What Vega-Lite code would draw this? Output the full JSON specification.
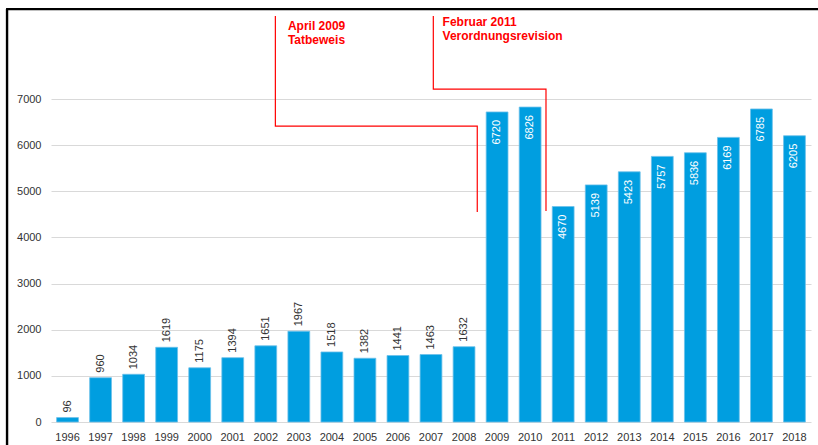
{
  "$schema": "https://vega.github.io/schema/vega-lite/v6.json",
  "width": 760,
  "height": 406,
  "autosize": {"type": "none"},
  "padding": {"left": 51, "top": 16, "right": 7, "bottom": 23},
  "background": "white",
  "config": {
    "view": {"stroke": null},
    "font": "Liberation Sans",
    "axis": {"labelFont": "Liberation Sans", "labelFontSize": 11, "labelColor": "#333333"}
  },
  "datasets": {
    "counts": [
      {"year": "1996", "count": 96}, {"year": "1997", "count": 960}, {"year": "1998", "count": 1034},
      {"year": "1999", "count": 1619}, {"year": "2000", "count": 1175}, {"year": "2001", "count": 1394},
      {"year": "2002", "count": 1651}, {"year": "2003", "count": 1967}, {"year": "2004", "count": 1518},
      {"year": "2005", "count": 1382}, {"year": "2006", "count": 1441}, {"year": "2007", "count": 1463},
      {"year": "2008", "count": 1632}, {"year": "2009", "count": 6720}, {"year": "2010", "count": 6826},
      {"year": "2011", "count": 4670}, {"year": "2012", "count": 5139}, {"year": "2013", "count": 5423},
      {"year": "2014", "count": 5757}, {"year": "2015", "count": 5836}, {"year": "2016", "count": 6169},
      {"year": "2017", "count": 6785}, {"year": "2018", "count": 6205}
    ],
    "annotLines": [
      {"id": "a", "order": 1, "x": 6.79, "y": 8800},
      {"id": "a", "order": 2, "x": 6.79, "y": 6415},
      {"id": "a", "order": 3, "x": 12.9, "y": 6415},
      {"id": "a", "order": 4, "x": 12.9, "y": 4551},
      {"id": "b", "order": 1, "x": 11.57, "y": 8800},
      {"id": "b", "order": 2, "x": 11.57, "y": 7217},
      {"id": "b", "order": 3, "x": 14.98, "y": 7217},
      {"id": "b", "order": 4, "x": 14.98, "y": 4573}
    ],
    "annotText": [
      {"x": 7.17, "y": 8496, "label": "April 2009"},
      {"x": 7.17, "y": 8193, "label": "Tatbeweis"},
      {"x": 11.85, "y": 8583, "label": "Februar 2011"},
      {"x": 11.85, "y": 8279, "label": "Verordnungsrevision"}
    ]
  },
  "resolve": {"scale": {"x": "independent"}, "axis": {"x": "independent"}},
  "layer": [
    {
      "data": {"name": "counts"},
      "encoding": {
        "x": {
          "field": "year", "type": "nominal", "sort": null,
          "scale": {"paddingInner": 0.34, "paddingOuter": 0.17},
          "axis": {"title": null, "labelAngle": 0, "domain": false, "ticks": false, "labelPadding": 9}
        },
        "y": {
          "field": "count", "type": "quantitative",
          "scale": {"domain": [0, 8800], "nice": false},
          "axis": {
            "title": null, "values": [0, 1000, 2000, 3000, 4000, 5000, 6000, 7000], "format": "d",
            "domain": false, "ticks": false, "labelPadding": 10,
            "gridColor": "#d9d9d9", "gridWidth": 1
          }
        }
      },
      "layer": [
        {"mark": {"type": "bar", "color": "#009ee0", "stroke": "#6cc0ea", "strokeWidth": 0.8}},
        {
          "transform": [{"filter": "datum.count < 4000"}],
          "mark": {"type": "text", "angle": 270, "align": "left", "baseline": "middle", "dx": 5, "fontSize": 11, "color": "#333333"},
          "encoding": {"text": {"field": "count", "type": "quantitative", "format": "d"}}
        },
        {
          "transform": [{"filter": "datum.count >= 4000"}],
          "mark": {"type": "text", "angle": 270, "align": "right", "baseline": "middle", "dx": -8, "fontSize": 11, "color": "white"},
          "encoding": {"text": {"field": "count", "type": "quantitative", "format": "d"}}
        }
      ]
    },
    {
      "layer": [
        {
          "data": {"name": "annotLines"},
          "mark": {"type": "line", "color": "#ff0000", "strokeWidth": 1.2, "clip": false},
          "encoding": {
            "x": {"field": "x", "type": "quantitative", "scale": {"domain": [0, 23], "nice": false, "zero": false}, "axis": null},
            "y": {"field": "y", "type": "quantitative", "title": null},
            "detail": {"field": "id"},
            "order": {"field": "order"}
          }
        },
        {
          "data": {"name": "annotText"},
          "mark": {"type": "text", "align": "left", "baseline": "alphabetic", "fontSize": 12, "fontWeight": "bold", "color": "#ff0000", "clip": false},
          "encoding": {
            "x": {"field": "x", "type": "quantitative", "axis": null},
            "y": {"field": "y", "type": "quantitative", "title": null},
            "text": {"field": "label"}
          }
        },
        {
          "data": {"values": [{}]},
          "mark": {"type": "rule", "color": "black", "strokeWidth": 2.4, "clip": false},
          "encoding": {
            "x": {"datum": -1.33, "type": "quantitative"},
            "y": {"datum": -600, "type": "quantitative"},
            "y2": {"datum": 8951}
          }
        },
        {
          "data": {"values": [{}]},
          "mark": {"type": "rule", "color": "black", "strokeWidth": 2.2, "clip": false},
          "encoding": {
            "x": {"datum": -1.36, "type": "quantitative"},
            "x2": {"datum": 23.5},
            "y": {"datum": 8951, "type": "quantitative"}
          }
        }
      ]
    }
  ]
}
